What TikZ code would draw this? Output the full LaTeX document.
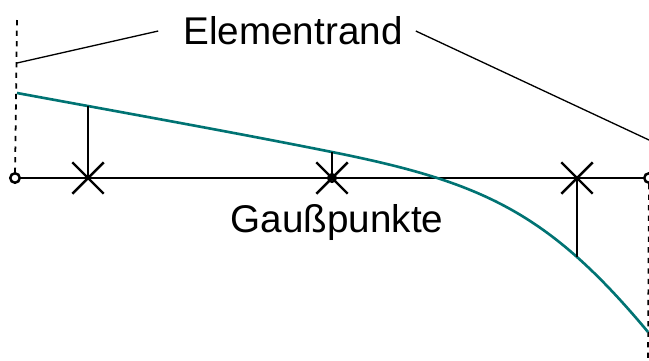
\documentclass[tikz,border=0pt]{standalone}
\usepackage{fontspec}
\setmainfont{Liberation Sans}
\usetikzlibrary{positioning,shapes.misc}

\begin{document}
\begin{tikzpicture}[x=0.02cm, y=-0.02cm, font=\fontsize{22}{26}\selectfont,
          knot/.style={draw, circle, line width=1.4pt, inner sep=0pt, minimum size=0.19cm},
          gauss/.style={draw, cross out, line width=1.4pt, inner sep=0pt, minimum size=0.58cm},
          leader/.style={line width=0.75pt}]
        \useasboundingbox (0,0) rectangle (649,360);
        \node[knot, fill=white] (k1) at (15,178) {};
        \node[knot, fill=white] (k2) at (649,178) {};
        \coordinate (r1) at (17,20);
        \coordinate (r2) at (648,360);
        % element edges
        \draw[dashed, line width=1pt] (r1) -- (k1);
        \draw[dashed, line width=1pt] (k2) -- (r2);
        \draw[line width=1.4pt] (k1) -- (k2);
        % gauss points
        \node[gauss] (g1) at (88,178) {};
        \node[gauss] (g2) at (332,178) {};
        \node[gauss] (g3) at (577,178) {};
        \node[knot, minimum size=0.15cm] (m) at (332,178) {};
        % curve
        \coordinate (c0) at (17,93);
        \coordinate (c2) at (332,152);
        \coordinate (c4) at (648,332);
        \draw[teal!90!black, line width=1.5pt] (c0)
          .. controls (120,112) and (232,132) .. (c2)
          .. controls (482,182) and (548,212) .. (c4);
        \coordinate (c1) at (88,106);
        \coordinate (c3) at (577,257);
        \draw[line width=1.4pt] (g1.center) -- (c1);
        \draw[line width=1.4pt] (g2.center) -- (c2);
        \draw[line width=1.4pt] (g3.center) -- (c3);
        % labels
        \node (rand) at (293,31) {Elementrand};
        \node (gp) at (337,222) {Gaußpunkte};
        \coordinate (e1) at (17,63);
        \coordinate (e2) at (649,140);
        \draw[leader] ([xshift=-0.38cm]rand.west) -- (e1);
        \draw[leader] ([xshift=0.14cm]rand.east) -- (e2);
      \end{tikzpicture}
\end{document}
